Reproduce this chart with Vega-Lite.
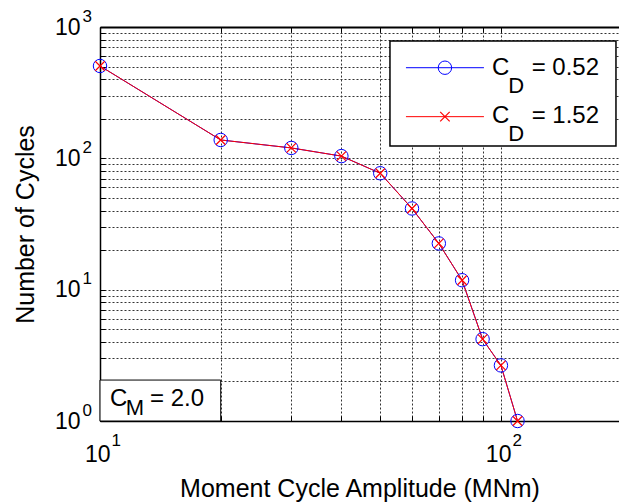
{
  "$schema": "https://vega.github.io/schema/vega-lite/v6.json",
  "width": 519,
  "height": 394,
  "autosize": {"type": "none"},
  "padding": {"left": 100, "top": 27, "right": 0, "bottom": 83},
  "background": "white",
  "config": {
    "font": "Liberation Sans",
    "view": {"stroke": null},
    "axis": {"labelFont": "Liberation Sans", "titleFont": "Liberation Sans", "labelColor": "#000000", "titleColor": "#000000", "titleFontWeight": "normal", "labelFlush": false, "labelOverlap": false}
  },
  "datasets": {
    "cycles": [
      {"amplitude": 10, "cycles": 505, "series": "0.52"},
      {"amplitude": 20, "cycles": 138, "series": "0.52"},
      {"amplitude": 30, "cycles": 120, "series": "0.52"},
      {"amplitude": 40, "cycles": 104, "series": "0.52"},
      {"amplitude": 50, "cycles": 77, "series": "0.52"},
      {"amplitude": 60, "cycles": 41.5, "series": "0.52"},
      {"amplitude": 70, "cycles": 22.5, "series": "0.52"},
      {"amplitude": 80, "cycles": 11.8, "series": "0.52"},
      {"amplitude": 90, "cycles": 4.2, "series": "0.52"},
      {"amplitude": 100, "cycles": 2.65, "series": "0.52"},
      {"amplitude": 110, "cycles": 1.0, "series": "0.52"},
      {"amplitude": 10, "cycles": 505, "series": "1.52"},
      {"amplitude": 20, "cycles": 138, "series": "1.52"},
      {"amplitude": 30, "cycles": 120, "series": "1.52"},
      {"amplitude": 40, "cycles": 104, "series": "1.52"},
      {"amplitude": 50, "cycles": 77, "series": "1.52"},
      {"amplitude": 60, "cycles": 41.5, "series": "1.52"},
      {"amplitude": 70, "cycles": 22.5, "series": "1.52"},
      {"amplitude": 80, "cycles": 11.8, "series": "1.52"},
      {"amplitude": 90, "cycles": 4.2, "series": "1.52"},
      {"amplitude": 100, "cycles": 2.65, "series": "1.52"},
      {"amplitude": 110, "cycles": 1.0, "series": "1.52"}
    ],
    "one": [{}]
  },
  "layer": [
    {
      "data": {"name": "cycles"},
      "mark": {"type": "point", "opacity": 0},
      "encoding": {
        "x": {"field": "amplitude", "type": "quantitative", "scale": {"type": "log", "domain": [10, 197], "nice": false},
          "axis": {"orient": "top", "values": [10, 20, 30, 40, 50, 60, 70, 80, 90, 100], "labels": false, "ticks": true, "tickSize": -5, "tickColor": "#000000", "domain": true, "domainColor": "#000000", "domainWidth": 2, "grid": true, "gridColor": "#333333", "gridDash": [2, 2], "gridWidth": 1, "gridOpacity": 1, "title": null}},
        "y": {"field": "cycles", "type": "quantitative", "scale": {"type": "log", "domain": [1, 1000], "nice": false},
          "axis": {"values": [1, 2, 3, 4, 5, 6, 7, 8, 9, 10, 20, 30, 40, 50, 60, 70, 80, 90, 100, 200, 300, 400, 500, 600, 700, 800, 900, 1000], "labelExpr": "indexof([1, 10, 100, 1000], datum.value) >= 0 ? '10' : ''", "labelFontSize": 23, "labelAlign": "right", "labelBaseline": "middle", "labelPadding": 25, "ticks": true, "tickSize": -5, "tickColor": "#000000", "domain": true, "domainColor": "#000000", "domainWidth": 1.5, "grid": true, "gridColor": "#333333", "gridDash": [2, 2], "gridWidth": 1, "gridOpacity": 1, "title": "Number of Cycles", "titleFontSize": 25, "titlePadding": 16}}
      }
    },
    {
      "data": {"name": "cycles"},
      "mark": {"type": "point", "opacity": 0},
      "encoding": {
        "x": {"field": "amplitude", "type": "quantitative", "scale": {"type": "log", "domain": [10, 197], "nice": false},
          "axis": {"orient": "bottom", "values": [10, 20, 30, 40, 50, 60, 70, 80, 90, 100], "labels": false, "ticks": true, "tickSize": -5, "tickColor": "#000000", "domain": true, "domainColor": "#000000", "domainWidth": 1.5, "grid": false, "title": null}},
        "y": {"field": "cycles", "type": "quantitative", "scale": {"type": "log", "domain": [1, 1000], "nice": false}, "axis": null}
      }
    },
    {
      "data": {"name": "cycles"},
      "transform": [{"filter": "datum.series == '0.52'"}],
      "mark": {"type": "line", "color": "#0000ff", "strokeWidth": 1},
      "encoding": {
        "x": {"field": "amplitude", "type": "quantitative", "scale": {"type": "log", "domain": [10, 197], "nice": false},
          "axis": {"orient": "bottom", "values": [10, 100], "labelExpr": "'10'", "labelFontSize": 23, "labelAlign": "right", "labelBaseline": "top", "labelOffset": 10, "labelPadding": 22, "ticks": false, "domain": false, "grid": false, "title": "Moment Cycle Amplitude (MNm)", "titleFontSize": 25, "titlePadding": 10}},
        "y": {"field": "cycles", "type": "quantitative", "scale": {"type": "log", "domain": [1, 1000], "nice": false}, "axis": null}
      }
    },
    {
      "data": {"name": "cycles"},
      "transform": [{"filter": "datum.series == '1.52'"}],
      "mark": {"type": "line", "color": "#ff0000", "strokeWidth": 1},
      "encoding": {
        "x": {"field": "amplitude", "type": "quantitative", "scale": {"type": "log", "domain": [10, 197], "nice": false}, "axis": null},
        "y": {"field": "cycles", "type": "quantitative", "scale": {"type": "log", "domain": [1, 1000], "nice": false}, "axis": null}
      }
    },
    {
      "data": {"name": "cycles"},
      "transform": [{"filter": "datum.series == '0.52'"}],
      "mark": {"type": "point", "shape": "circle", "filled": false, "color": "#0000ff", "size": 180, "strokeWidth": 1, "opacity": 1},
      "encoding": {
        "x": {"field": "amplitude", "type": "quantitative", "scale": {"type": "log", "domain": [10, 197], "nice": false}, "axis": null},
        "y": {"field": "cycles", "type": "quantitative", "scale": {"type": "log", "domain": [1, 1000], "nice": false}, "axis": null}
      }
    },
    {
      "data": {"name": "cycles"},
      "transform": [{"filter": "datum.series == '1.52'"}],
      "mark": {"type": "point", "shape": "M-1,-1L1,1M-1,1L1,-1", "filled": false, "color": "#ff0000", "size": 90, "strokeWidth": 1.2, "opacity": 1},
      "encoding": {
        "x": {"field": "amplitude", "type": "quantitative", "scale": {"type": "log", "domain": [10, 197], "nice": false}, "axis": null},
        "y": {"field": "cycles", "type": "quantitative", "scale": {"type": "log", "domain": [1, 1000], "nice": false}, "axis": null}
      }
    },
    {
      "data": {"name": "cycles"},
      "mark": {"type": "point", "opacity": 0},
      "encoding": {
        "x": {"field": "amplitude", "type": "quantitative", "scale": {"type": "log", "domain": [10, 197], "nice": false},
          "axis": {"orient": "bottom", "values": [10, 100], "labelExpr": "datum.value == 10 ? '1' : '2'", "labelFontSize": 17, "labelAlign": "left", "labelBaseline": "top", "labelOffset": 11, "labelPadding": 11, "ticks": false, "domain": false, "grid": false, "title": null}},
        "y": {"field": "cycles", "type": "quantitative", "scale": {"type": "log", "domain": [1, 1000], "nice": false},
          "axis": {"orient": "left", "values": [1, 10, 100, 1000], "labelExpr": "datum.value == 1 ? '0' : datum.value == 10 ? '1' : datum.value == 100 ? '2' : '3'", "labelFontSize": 17, "labelAlign": "left", "labelBaseline": "middle", "labelPadding": 18, "labelOffset": -11, "ticks": false, "domain": false, "grid": false, "title": null}}
      }
    },
    {
      "data": {"name": "one"},
      "mark": {"type": "rect", "fill": "#ffffff", "stroke": "#000000", "strokeWidth": 1.5},
      "encoding": {
        "x": {"datum": 52.87, "type": "quantitative", "scale": {"type": "log", "domain": [10, 197], "nice": false}, "axis": null},
        "x2": {"datum": 193.6},
        "y": {"datum": 782.3, "type": "quantitative", "scale": {"type": "log", "domain": [1, 1000], "nice": false}, "axis": null},
        "y2": {"datum": 124.1}
      }
    },
    {
      "data": {"name": "one"},
      "mark": {"type": "rule", "color": "#0000ff", "strokeWidth": 1},
      "encoding": {
        "x": {"datum": 57.96, "type": "quantitative", "scale": {"type": "log", "domain": [10, 197], "nice": false}, "axis": null},
        "x2": {"datum": 90.7},
        "y": {"datum": 489.8, "type": "quantitative", "scale": {"type": "log", "domain": [1, 1000], "nice": false}, "axis": null}
      }
    },
    {
      "data": {"name": "one"},
      "mark": {"type": "rule", "color": "#ff0000", "strokeWidth": 1},
      "encoding": {
        "x": {"datum": 57.96, "type": "quantitative", "scale": {"type": "log", "domain": [10, 197], "nice": false}, "axis": null},
        "x2": {"datum": 90.7},
        "y": {"datum": 207.6, "type": "quantitative", "scale": {"type": "log", "domain": [1, 1000], "nice": false}, "axis": null}
      }
    },
    {
      "data": {"name": "one"},
      "mark": {"type": "point", "shape": "circle", "filled": false, "color": "#0000ff", "size": 180, "strokeWidth": 1, "opacity": 1},
      "encoding": {
        "x": {"datum": 72.5, "type": "quantitative", "scale": {"type": "log", "domain": [10, 197], "nice": false}, "axis": null},
        "y": {"datum": 489.8, "type": "quantitative", "scale": {"type": "log", "domain": [1, 1000], "nice": false}, "axis": null}
      }
    },
    {
      "data": {"name": "one"},
      "mark": {"type": "point", "shape": "M-1,-1L1,1M-1,1L1,-1", "filled": false, "color": "#ff0000", "size": 90, "strokeWidth": 1.2, "opacity": 1},
      "encoding": {
        "x": {"datum": 72.5, "type": "quantitative", "scale": {"type": "log", "domain": [10, 197], "nice": false}, "axis": null},
        "y": {"datum": 207.6, "type": "quantitative", "scale": {"type": "log", "domain": [1, 1000], "nice": false}, "axis": null}
      }
    },
    {
      "data": {"name": "one"},
      "mark": {"type": "text", "align": "left", "baseline": "alphabetic", "fontSize": 24, "font": "Liberation Sans", "color": "#000000"},
      "encoding": {
        "x": {"datum": 95.0, "type": "quantitative", "scale": {"type": "log", "domain": [10, 197], "nice": false}, "axis": null},
        "y": {"datum": 431, "type": "quantitative", "scale": {"type": "log", "domain": [1, 1000], "nice": false}, "axis": null},
        "text": {"value": "C"}
      }
    },
    {
      "data": {"name": "one"},
      "mark": {"type": "text", "align": "left", "baseline": "alphabetic", "fontSize": 22, "font": "Liberation Sans", "color": "#000000"},
      "encoding": {
        "x": {"datum": 104.3, "type": "quantitative", "scale": {"type": "log", "domain": [10, 197], "nice": false}, "axis": null},
        "y": {"datum": 312.7, "type": "quantitative", "scale": {"type": "log", "domain": [1, 1000], "nice": false}, "axis": null},
        "text": {"value": "D"}
      }
    },
    {
      "data": {"name": "one"},
      "mark": {"type": "text", "align": "left", "baseline": "alphabetic", "fontSize": 24, "font": "Liberation Sans", "color": "#000000"},
      "encoding": {
        "x": {"datum": 119.3, "type": "quantitative", "scale": {"type": "log", "domain": [10, 197], "nice": false}, "axis": null},
        "y": {"datum": 431, "type": "quantitative", "scale": {"type": "log", "domain": [1, 1000], "nice": false}, "axis": null},
        "text": {"value": "= 0.52"}
      }
    },
    {
      "data": {"name": "one"},
      "mark": {"type": "text", "align": "left", "baseline": "alphabetic", "fontSize": 24, "font": "Liberation Sans", "color": "#000000"},
      "encoding": {
        "x": {"datum": 95.0, "type": "quantitative", "scale": {"type": "log", "domain": [10, 197], "nice": false}, "axis": null},
        "y": {"datum": 184.8, "type": "quantitative", "scale": {"type": "log", "domain": [1, 1000], "nice": false}, "axis": null},
        "text": {"value": "C"}
      }
    },
    {
      "data": {"name": "one"},
      "mark": {"type": "text", "align": "left", "baseline": "alphabetic", "fontSize": 22, "font": "Liberation Sans", "color": "#000000"},
      "encoding": {
        "x": {"datum": 104.3, "type": "quantitative", "scale": {"type": "log", "domain": [10, 197], "nice": false}, "axis": null},
        "y": {"datum": 135.5, "type": "quantitative", "scale": {"type": "log", "domain": [1, 1000], "nice": false}, "axis": null},
        "text": {"value": "D"}
      }
    },
    {
      "data": {"name": "one"},
      "mark": {"type": "text", "align": "left", "baseline": "alphabetic", "fontSize": 24, "font": "Liberation Sans", "color": "#000000"},
      "encoding": {
        "x": {"datum": 119.3, "type": "quantitative", "scale": {"type": "log", "domain": [10, 197], "nice": false}, "axis": null},
        "y": {"datum": 184.8, "type": "quantitative", "scale": {"type": "log", "domain": [1, 1000], "nice": false}, "axis": null},
        "text": {"value": "= 1.52"}
      }
    },
    {
      "data": {"name": "one"},
      "mark": {"type": "rect", "fill": "#ffffff", "stroke": "#000000", "strokeWidth": 1},
      "encoding": {
        "x": {"datum": 10, "type": "quantitative", "scale": {"type": "log", "domain": [10, 197], "nice": false}, "axis": null},
        "x2": {"datum": 20},
        "y": {"datum": 1, "type": "quantitative", "scale": {"type": "log", "domain": [1, 1000], "nice": false}, "axis": null},
        "y2": {"datum": 2.05}
      }
    },
    {
      "data": {"name": "one"},
      "mark": {"type": "text", "align": "left", "baseline": "alphabetic", "fontSize": 24, "font": "Liberation Sans", "color": "#000000"},
      "encoding": {
        "x": {"datum": 10.59, "type": "quantitative", "scale": {"type": "log", "domain": [10, 197], "nice": false}, "axis": null},
        "y": {"datum": 1.307, "type": "quantitative", "scale": {"type": "log", "domain": [1, 1000], "nice": false}, "axis": null},
        "text": {"value": "C"}
      }
    },
    {
      "data": {"name": "one"},
      "mark": {"type": "text", "align": "left", "baseline": "alphabetic", "fontSize": 22, "font": "Liberation Sans", "color": "#000000"},
      "encoding": {
        "x": {"datum": 11.59, "type": "quantitative", "scale": {"type": "log", "domain": [10, 197], "nice": false}, "axis": null},
        "y": {"datum": 1.111, "type": "quantitative", "scale": {"type": "log", "domain": [1, 1000], "nice": false}, "axis": null},
        "text": {"value": "M"}
      }
    },
    {
      "data": {"name": "one"},
      "mark": {"type": "text", "align": "left", "baseline": "alphabetic", "fontSize": 24, "font": "Liberation Sans", "color": "#000000"},
      "encoding": {
        "x": {"datum": 13.33, "type": "quantitative", "scale": {"type": "log", "domain": [10, 197], "nice": false}, "axis": null},
        "y": {"datum": 1.307, "type": "quantitative", "scale": {"type": "log", "domain": [1, 1000], "nice": false}, "axis": null},
        "text": {"value": "= 2.0"}
      }
    }
  ],
  "resolve": {"axis": {"x": "independent", "y": "independent"}}
}
